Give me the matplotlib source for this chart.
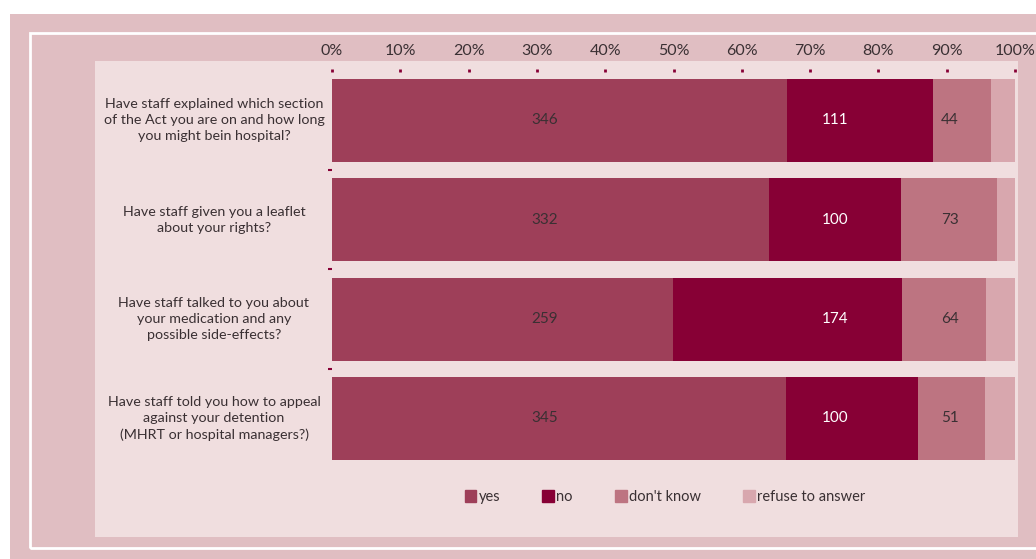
import matplotlib.pyplot as plt
import matplotlib.patches as mpatches
import matplotlib.transforms as mtransforms
import numpy as np

plt.rcParams["font.family"] = ["Lato", "DejaVu Sans"]

# questions and answer counts (refuse counts)
questions = [
    "Have staff explained which section\nof the Act you are on and how long\nyou might bein hospital?",
    "Have staff given you a leaflet\nabout your rights?",
    "Have staff talked to you about\nyour medication and any\npossible side-effects?",
    "Have staff told you how to appeal\nagainst your detention\n(MHRT or hospital managers?)",
]
answers = ["yes", "no", "don't know", "refuse to answer"]
yes = [346, 332, 259, 345]
no = [111, 100, 174, 100]
dont_know = [44, 73, 64, 51]
refuse = [18, 14, 22, 23]
tick_labels = ["0%", "10%", "20%", "30%", "40%", "50%", "60%", "70%", "80%", "90%", "100%"]

colors = ["#9e3f59", "#870035", "#bd7481", "#d8a7ae"]
label_colors = ["#3a3033", "#ffffff", "#3a3033", None]
# the source puts each series' count labels in one fixed column (percent axis)
label_x = [31.2, 73.6, 90.5, None]
panel = "#f0dedf"
outer = "#e0bec2"

W, H = 1036, 559
fig = plt.figure(figsize=(W / 100, H / 100), dpi=100)
fig.patch.set_facecolor("white")


def px_rect(x0, y0, x1, y1, **kw):
    # rectangle given in pixel coords, origin top-left
    r = mpatches.Rectangle((x0 / W, 1 - y1 / H), (x1 - x0) / W, (y1 - y0) / H,
                           transform=fig.transFigure, zorder=-5, **kw)
    fig.patches.append(r)


px_rect(10, 14, W + 5, H + 5, facecolor=outer, edgecolor="none")
px_rect(30, 33, W + 20, 548, facecolor="none", edgecolor="white", linewidth=2)
px_rect(95, 61, 1018, 537, facecolor=panel, edgecolor="none")

ax_top, ax_bot = 69, 470
ax = fig.add_axes([332 / W, 1 - ax_bot / H, (1015 - 332) / W, (ax_bot - ax_top) / H])
ax.set_facecolor("none")

counts = np.array([yes, no, dont_know, refuse], dtype=float)
pct = counts / counts.sum(axis=0) * 100
y = np.arange(len(questions))
left = np.zeros(len(questions))
for k in range(len(answers)):
    ax.barh(y, pct[k], left=left, height=0.836, color=colors[k], label=answers[k])
    if label_colors[k]:
        for i in range(len(questions)):
            ax.text(label_x[k], y[i], str(int(counts[k][i])),
                    ha="center", va="center", fontsize=11, color=label_colors[k])
    left += pct[k]

spacing = 99.33
ax.set_ylim((ax_bot - 120.5) / spacing, (ax_top - 120.5) / spacing)
ax.set_xlim(0, 100)

for s in ax.spines.values():
    s.set_visible(False)

ax.xaxis.tick_top()
ax.set_xticks(np.arange(0, 101, 10))
ax.set_xticklabels(tick_labels, fontsize=11.5, color="#3a3033")
ax.tick_params(axis="x", direction="in", length=2, width=2, color="#870035", pad=8)

ax.set_yticks([])
ax.set_yticks([0.5, 1.5, 2.5], minor=True)
ax.tick_params(axis="y", which="minor", direction="out", length=3, width=1.5,
               color="#870035", labelleft=False)

trans = mtransforms.blended_transform_factory(ax.transAxes, ax.transData)
for i, q in enumerate(questions):
    ax.text(-(332 - 214) / 683, y[i], q, transform=trans, ha="center", va="center",
            multialignment="center", fontsize=10.3, color="#3a3033", linespacing=1.4)

handles = [mpatches.Patch(color=c) for c in colors]
fig.legend(handles, answers, loc="center", bbox_to_anchor=(665 / W, 1 - 497 / H),
           ncol=4, frameon=False, fontsize=10.5, handlelength=0.8, handleheight=0.8,
           handletextpad=0.15, columnspacing=2.9, labelcolor="#3a3033")

fig.savefig("out.png", dpi=100)
plt.close(fig)
